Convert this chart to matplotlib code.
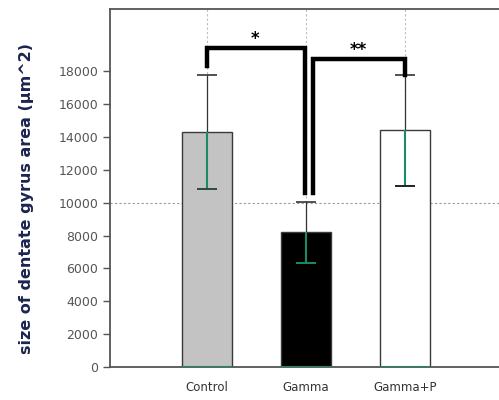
import matplotlib.pyplot as plt
import numpy as np

groups = ["Control", "Gamma", "Gamma+P"]
means = [14300, 8200, 14450]
err_up = [3500, 1850, 3350]
err_down = [3450, 1850, 3400]
bar_colors = ["#c3c3c3", "#000000", "#ffffff"]
low_cap_colors = ["#2a4a40", "#1b8a66", "#222222"]

# significance brackets: (x_left, x_right, y_left_end, y_top, y_right_end, label)
brackets = [
    (0.0, 0.99, 18300, 19400, 10600, "*"),
    (1.07, 2.0, 10600, 18750, 17800, "**"),
]
star_pos = [(0.49, 20000), (1.53, 19300)]

fig = plt.figure(figsize=(4.99, 4.0), dpi=100)
ax = fig.add_axes([0.2204, 0.0825, 0.7796, 0.895])

x = np.arange(len(groups))
means = np.array(means)
up = means + np.array(err_up)
lo = means - np.array(err_down)

# grid: verticals at categories, one horizontal at 10000
for xi in x:
    ax.axvline(xi, color="#bdbdbd", lw=0.8, ls=(0, (2, 2)), zorder=0)
ax.axhline(10000, color="#9a9a9a", lw=0.8, ls=(0, (2, 2)), zorder=0)

ax.bar(x, means, width=0.5, color=bar_colors, edgecolor="#3a3a3a", lw=1.0, zorder=2)
ax.hlines([0] * len(x), x - 0.25, x + 0.25, color="#1b8a66", lw=1.5, zorder=3)

# error bars: upper part dark, lower part teal
cw = 0.1
ax.vlines(x, means, up, color="#333333", lw=0.9, zorder=3)
ax.hlines(up, x - cw, x + cw, color="#333333", lw=1.2, zorder=3)
ax.vlines(x, lo, means, color="#1b8a66", lw=1.5, zorder=3)
ax.hlines(lo, x - cw, x + cw, color=low_cap_colors, lw=1.4, zorder=3)

for x0, x1, yl, yt, yr, lab in brackets:
    ax.plot([x0, x0, x1, x1], [yl, yt, yt, yr], color="black", lw=3.2,
            solid_joinstyle="miter", zorder=4)
for (sx, sy), br in zip(star_pos, brackets):
    ax.text(sx, sy, br[5], ha="center", va="center", fontsize=12,
            fontweight="bold", color="black")

ax.set_xlim(-0.98, 2.95)
ax.set_ylim(0, 21800)
ax.set_xticks(x)
ax.set_xticklabels(groups, fontsize=8.5, color="#333333")
ax.set_yticks(np.arange(0, 18001, 2000))
ax.tick_params(axis="y", labelsize=9, labelcolor="#555555", color="#555555",
               length=5, width=1)
ax.tick_params(axis="x", length=0, pad=10)

for s in ["top", "left", "bottom"]:
    ax.spines[s].set_color("#555555")
    ax.spines[s].set_linewidth(1.3)
ax.spines["right"].set_visible(False)

ax.set_ylabel("size of dentate gyrus area (\u00b5m^2)", fontsize=11.5,
              fontweight="bold", color="#1c2450")
ax.yaxis.set_label_coords(-0.195, 0.47)

fig.savefig("out.png", dpi=100)
